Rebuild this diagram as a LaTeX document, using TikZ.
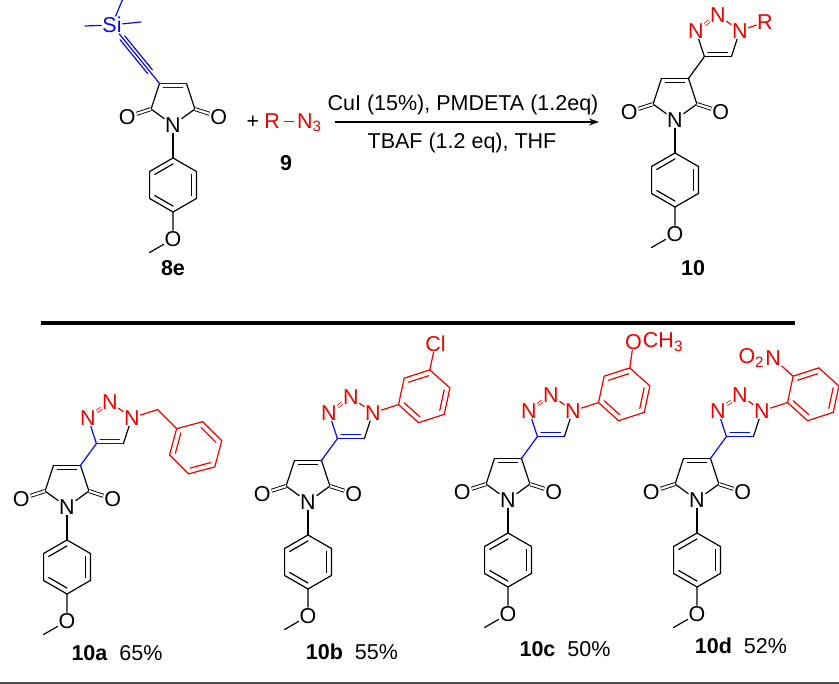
\documentclass[tikz,border=0pt]{standalone}
\usepackage{fontspec}
\setmainfont{Liberation Sans}
\usetikzlibrary{calc,arrows.meta}
\definecolor{cb}{RGB}{10,10,230}
\definecolor{cr}{RGB}{235,0,0}
\newcommand{\bigf}{\fontsize{21.5}{22}\selectfont}
\tikzset{
  bond/.style={line width=1.2pt,line cap=round},
  dbl/.style={line width=0.9pt,double,double distance=2.2pt},
  atom/.style={inner sep=0.8pt,font=\bigf},
  lab/.style={font=\bigf},
}
\newcommand{\mcore}[4]{%
\begin{scope}[shift={(#1,#2)}]
\node[atom] (#3N) at (0,0) {N};
\coordinate (#3C2) at (21.9,15.9); \coordinate (#3C3) at (13.5,41.6);
\coordinate (#3C4) at (-13.5,41.6); \coordinate (#3C5) at (-21.9,15.9);
\node[atom] (#3Oa) at (45.7,8.2) {O}; \node[atom] (#3Ob) at (-45.7,8.2) {O};
\draw[bond] (#3N) -- (#3C2) -- (#3C3);
\draw[bond] (#3C4) -- (#3C5) -- (#3N);
\draw[bond,#4] (#3C3) -- (#3C4);
\draw[bond,#4] (-9.5,37.4) -- (9.5,37.4);
\draw[dbl] (#3C2) -- (#3Oa);
\draw[dbl] (#3C5) -- (#3Ob);
\coordinate (#3H) at (0,-60);
\coordinate (#3B1) at (0,-33); \coordinate (#3B2) at (23.4,-46.5);
\coordinate (#3B3) at (23.4,-73.5); \coordinate (#3B4) at (0,-87);
\coordinate (#3B5) at (-23.4,-73.5); \coordinate (#3B6) at (-23.4,-46.5);
\node[atom] (#3Om) at (0,-114) {O};
\coordinate (#3Me) at (-23.4,-127.5);
\draw[bond] (#3N) -- (#3B1);
\draw[bond] (#3B1) -- (#3B2) -- (#3B3) -- (#3B4) -- (#3B5) -- (#3B6) -- cycle;
\draw[bond] ($(#3H)!0.78!(#3B1)$) -- ($(#3H)!0.78!(#3B6)$);
\draw[bond] ($(#3H)!0.78!(#3B2)$) -- ($(#3H)!0.78!(#3B3)$);
\draw[bond] ($(#3H)!0.78!(#3B4)$) -- ($(#3H)!0.78!(#3B5)$);
\draw[bond] (#3B4) -- (#3Om) -- (#3Me);
\end{scope}}
\newcommand{\triaz}[4]{%
\begin{scope}[shift={(#1,#2)}]
\coordinate (#3T4) at (29.4,63.4); \coordinate (#3T5) at (56.4,63.4);
\node[atom,text=cr] (#3N1) at (64.8,89.1) {N};
\node[atom,text=cr] (#3N2) at (42.9,105) {N};
\node[atom,text=cr] (#3N3) at (21.0,89.1) {N};
\draw[bond,#4] (#3C3) -- (#3T4) -- (#3N3);
\draw[bond,#4] (#3T4) -- (#3T5);
\draw[bond,#4] (33,67.5) -- (52.5,67.5);
\draw[bond] (#3T5) -- (#3N1);
\draw[bond,cr] (#3N1) -- (#3N2);
\draw[line width=0.8pt,cr,double,double distance=1.8pt] (#3N2) -- (#3N3);
\end{scope}}
\newcommand{\rring}[2]{%
\draw[bond,cr] ($(#1)+(#2:27)$) -- ($(#1)+(#2+60:27)$) -- ($(#1)+(#2+120:27)$) -- ($(#1)+(#2+180:27)$) -- ($(#1)+(#2+240:27)$) -- ($(#1)+(#2+300:27)$) -- cycle;
\draw[bond,cr] ($(#1)+(#2:21)$) -- ($(#1)+(#2+60:21)$);
\draw[bond,cr] ($(#1)+(#2+120:21)$) -- ($(#1)+(#2+180:21)$);
\draw[bond,cr] ($(#1)+(#2+240:21)$) -- ($(#1)+(#2+300:21)$);}
\begin{document}
\begin{tikzpicture}[x=1pt,y=1pt]
\useasboundingbox (0,0) rectangle (839,684);
% ---------- 8e ----------
\mcore{173}{559}{a}{cb}
\node[atom,text=cb] (Si) at (112,659) {Si};
\coordinate (Ca) at ($(aC4)!0.2!(Si)$);
\coordinate (Cb) at ($(aC4)!0.78!(Si)$);
\draw[bond,cb] (aC4) -- (Ca) -- (Cb) -- (Si);
\draw[bond,cb] ($(Ca)!3pt!90:(Cb)$) -- ($(Cb)!3pt!-90:(Ca)$);
\draw[bond,cb] ($(Ca)!3pt!-90:(Cb)$) -- ($(Cb)!3pt!90:(Ca)$);
\coordinate (Me1) at (85,658); \coordinate (Me2) at (124,688); \coordinate (Me3) at (141,662);
\draw[bond,cb] (Si) -- (Me1); \draw[bond,cb] (Si) -- (Me2); \draw[bond,cb] (Si) -- (Me3);
\node[lab,font=\bigf\bfseries] (l8e) at (173,416) {8e};
% ---------- + azide ----------
\node[lab] (plus) at (253,562) {+};
\node[lab,text=cr] (az) at (293,561) {R\,\raisebox{0.3em}{\rule{10pt}{1.2pt}}\,N\textsubscript{3}};
\node[lab,font=\bigf\bfseries] (l9) at (286,521) {9};
% ---------- arrow ----------
\coordinate (ar1) at (335,562); \coordinate (ar2) at (599,562);
\draw[line width=1.2pt,-{Stealth[length=10pt,width=7pt]}] (ar1) -- (ar2);
\node[lab,anchor=base] (cond1) at (463,573) {CuI (15\%), PMDETA (1.2eq)};
\node[lab,anchor=base] (cond2) at (462,535) {TBAF (1.2 eq), THF};
% ---------- 10 ----------
\mcore{675}{564}{p}{black}
\triaz{675}{564}{p}{black}
\node[atom,text=cr] (pR) at (675+90,564+98) {R};
\draw[bond,cr] (pN1) -- (pR);
\node[lab,font=\bigf\bfseries] (l10) at (693,416) {10};
% ---------- separator ----------
\draw[line width=4pt] (41,361) -- (795,361);
\draw[line width=1.5pt,black!70] (0,1) -- (839,1);
% ---------- 10a ----------
\mcore{67}{177}{q}{black}
\triaz{67}{177}{q}{cb}
\begin{scope}[shift={(67,177)}]
\coordinate (qCH) at (90.5,97.4); \coordinate (qA) at (109.6,78.3); \coordinate (qc) at (128.7,59.2);
\draw[bond,cr] (qN1) -- (qCH) -- (qA);
\rring{qc}{135}
\end{scope}
\node[lab] (l10a) at (117,31) {\textbf{10a}\ \ 65\%};
% ---------- 10b ----------
\mcore{308}{182}{r}{black}
\triaz{308}{182}{r}{cb}
\begin{scope}[shift={(308,182)}]
\coordinate (rA) at (90.5,97.4); \coordinate (rc) at (116.2,105.7);
\draw[bond,cr] (rN1) -- (rA);
\rring{rc}{198}
\node[atom,text=cr] (rCl) at ($(rc)+(78:54)$) {Cl};
\draw[bond,cr] ($(rc)+(78:27)$) -- (rCl);
\end{scope}
\node[lab] (l10b) at (352,32) {\textbf{10b}\ \ 55\%};
% ---------- 10c ----------
\mcore{508}{184}{s}{black}
\triaz{508}{184}{s}{cb}
\begin{scope}[shift={(508,184)}]
\coordinate (sA) at (90.5,97.4); \coordinate (sc) at (116.2,105.7);
\draw[bond,cr] (sN1) -- (sA);
\rring{sc}{198}
\node[atom,text=cr] (sO) at ($(sc)+(80:53)$) {O};
\node[atom,text=cr,anchor=west,inner sep=0pt] (sMe) at (sO.east) {CH\textsubscript{3}};
\draw[bond,cr] ($(sc)+(78:27)$) -- (sO);
\end{scope}
\node[lab] (l10c) at (565,35) {\textbf{10c}\ \ 50\%};
% ---------- 10d ----------
\mcore{697}{184}{t}{black}
\triaz{697}{184}{t}{cb}
\begin{scope}[shift={(697,184)}]
\coordinate (tA) at (90.5,97.4); \coordinate (tc) at (116.2,105.7);
\draw[bond,cr] (tN1) -- (tA);
\rring{tc}{198}
\node[atom,text=cr] (tNO) at ($(tc)+(138:54)$) {N};
\node[atom,text=cr,anchor=east,inner sep=0pt] (tO2) at (tNO.west) {O\textsubscript{2}};
\draw[bond,cr] ($(tc)+(138:27)$) -- (tNO);
\end{scope}
\node[lab] (l10d) at (741,38) {\textbf{10d}\ \ 52\%};
\end{tikzpicture}
\end{document}
